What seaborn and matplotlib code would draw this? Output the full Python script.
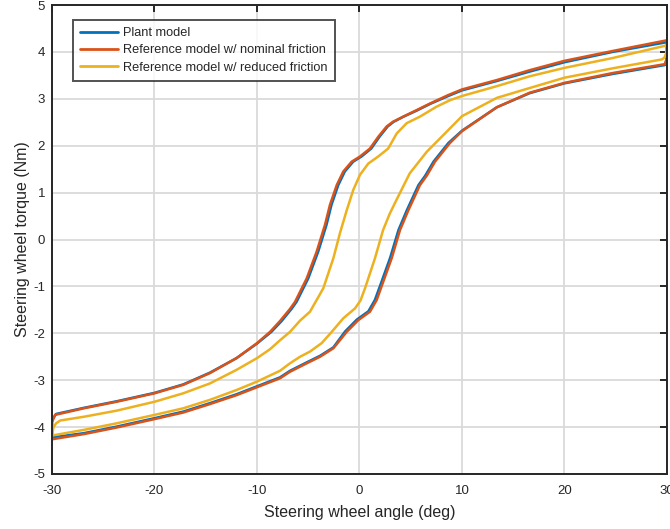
import numpy as np
import pandas as pd
import matplotlib
matplotlib.use("Agg")
import matplotlib.pyplot as plt
import seaborn as sns

# Steering wheel angle (deg) / torque (Nm) hysteresis loops.
# Each loop: "lo" branch = angle increasing, "up" branch = angle decreasing.

# Plant model
plant_lo_angle = [-30, -26.9, -23.7, -20, -17.2, -14.6, -12, -10, -7.76, -6.78, -5.15, -3.85,
                  -2.55, -1.4, -0.27, 0.87, 1.5, 2.02, 2.99, 3.8, 4.61, 5.75, 6.41, 7.22, 8.68,
                  10, 13.4, 16.6, 20, 24.7, 29.8, 29.95]
plant_lo_torque = [-4.22, -4.13, -3.99, -3.81, -3.67, -3.49, -3.30, -3.13, -2.94, -2.80, -2.62,
                   -2.48, -2.30, -1.96, -1.71, -1.53, -1.29, -0.98, -0.39, 0.20, 0.62, 1.16,
                   1.36, 1.66, 2.06, 2.32, 2.82, 3.12, 3.33, 3.53, 3.72, 3.82]
plant_up_angle = [-30, -29.6, -26.9, -23.7, -20, -17.2, -14.6, -12, -10, -8.6, -7.6, -6.63,
                  -6.14, -5.0, -4.03, -3.22, -2.73, -2.07, -1.43, -0.61, 0.2, 1.15, 1.95, 2.75,
                  3.34, 4.3, 5.6, 6.88, 8.66, 10, 13.4, 16.6, 20, 24.7, 29.8, 30]
plant_up_torque = [-3.85, -3.72, -3.59, -3.45, -3.27, -3.09, -2.84, -2.53, -2.22, -1.97, -1.74,
                   -1.48, -1.33, -0.83, -0.26, 0.31, 0.74, 1.16, 1.45, 1.66, 1.77, 1.94, 2.19,
                   2.41, 2.51, 2.62, 2.75, 2.89, 3.06, 3.18, 3.38, 3.58, 3.78, 4.00, 4.20, 4.21]

# Reference model w/ nominal friction
nom_lo_angle = [-30, -26.9, -23.7, -20, -17.2, -14.6, -12, -10, -7.76, -6.78, -5.15, -3.85,
                -2.55, -1.25, -0.12, 1.02, 1.68, 2.17, 3.14, 3.95, 4.76, 5.9, 6.56, 7.37, 8.83,
                10, 13.4, 16.6, 20, 24.7, 29.8, 29.95]
nom_lo_torque = [-4.26, -4.15, -4.01, -3.83, -3.69, -3.51, -3.32, -3.15, -2.96, -2.82, -2.64,
                 -2.50, -2.32, -1.97, -1.72, -1.54, -1.29, -0.99, -0.40, 0.20, 0.62, 1.16,
                 1.36, 1.66, 2.06, 2.31, 2.82, 3.13, 3.34, 3.55, 3.74, 3.85]
nom_up_angle = [-30, -29.7, -26.9, -23.7, -20, -17.2, -14.6, -12, -10, -8.73, -7.76, -6.78,
                -6.29, -5.15, -4.18, -3.37, -2.88, -2.22, -1.58, -0.76, 0.05, 1.02, 1.83, 2.65,
                3.26, 4.27, 5.58, 6.88, 8.66, 10, 13.4, 16.6, 20, 24.7, 29.8, 30]
nom_up_torque = [-3.90, -3.74, -3.60, -3.46, -3.28, -3.10, -2.85, -2.53, -2.21, -1.97, -1.74,
                 -1.48, -1.33, -0.83, -0.26, 0.31, 0.74, 1.16, 1.45, 1.66, 1.77, 1.94, 2.19,
                 2.41, 2.51, 2.62, 2.76, 2.90, 3.08, 3.20, 3.40, 3.61, 3.81, 4.02, 4.24, 4.25]

# Reference model w/ reduced friction
red_lo_angle = [-30, -26.9, -23.7, -20, -17.2, -14.6, -12, -10, -8.73, -7.76, -6.78, -5.8,
                -4.83, -3.69, -2.71, -1.58, -0.44, 0.1, 0.54, 1.51, 2.3, 2.95, 3.6, 4.9, 6.56,
                8.83, 10, 13.4, 16.6, 20, 24.7, 29.5, 29.75, 29.9, 30]
red_lo_torque = [-4.18, -4.06, -3.92, -3.74, -3.60, -3.42, -3.21, -3.03, -2.90, -2.80, -2.64,
                 -2.50, -2.39, -2.21, -1.97, -1.68, -1.47, -1.30, -1.04, -0.40, 0.20, 0.55,
                 0.84, 1.41, 1.87, 2.37, 2.63, 3.02, 3.23, 3.45, 3.65, 3.84, 3.88, 3.96, 4.15]
red_up_angle = [-30, -29.85, -29.6, -29.2, -26.9, -23.7, -20, -17.2, -14.6, -12, -10, -8.73,
                -7.76, -6.78, -5.8, -4.83, -3.53, -2.55, -1.9, -1.25, -0.6, 0.05, 0.86, 1.83,
                2.8, 3.63, 4.6, 5.9, 7.5, 8.83, 10, 13.4, 16.6, 20, 24.7, 29.8, 30]
red_up_torque = [-4.17, -4.00, -3.92, -3.86, -3.78, -3.65, -3.46, -3.28, -3.07, -2.78, -2.53,
                 -2.34, -2.15, -1.97, -1.73, -1.54, -1.04, -0.40, 0.14, 0.62, 1.06, 1.38,
                 1.62, 1.77, 1.94, 2.26, 2.48, 2.62, 2.83, 2.97, 3.06, 3.27, 3.48, 3.66,
                 3.87, 4.13, 4.15]

labels = ["Plant model",
          "Reference model w/ nominal friction",
          "Reference model w/ reduced friction"]
colors = ["#0072BD", "#D95319", "#EDB120"]


def loop_frame(name, lo_x, lo_y, up_x, up_y):
    # increasing-angle branch, then decreasing-angle branch, then close the loop
    x = list(lo_x) + list(up_x)[::-1] + [lo_x[0]]
    y = list(lo_y) + list(up_y)[::-1] + [lo_y[0]]
    return pd.DataFrame({"angle": x, "torque": y, "model": name})


df = pd.concat([
    loop_frame(labels[0], plant_lo_angle, plant_lo_torque, plant_up_angle, plant_up_torque),
    loop_frame(labels[1], nom_lo_angle, nom_lo_torque, nom_up_angle, nom_up_torque),
    loop_frame(labels[2], red_lo_angle, red_lo_torque, red_up_angle, red_up_torque),
], ignore_index=True)

sns.set_style("white")
plt.rcParams["font.family"] = ["Liberation Sans", "DejaVu Sans"]
plt.rcParams["axes.unicode_minus"] = False

fig = plt.figure(figsize=(6.70, 5.29), dpi=100)
ax = fig.add_axes([0.0776, 0.104, 0.9179, 0.8865])

sns.lineplot(data=df, x="angle", y="torque", hue="model", hue_order=labels,
             palette=colors, sort=False, estimator=None, units="model",
             linewidth=1.8, ax=ax)

ax.set_xlim(-30, 30)
ax.set_ylim(-5, 5)
ax.set_xticks(np.arange(-30, 31, 10))
ax.set_yticks(np.arange(-5, 6, 1))
ax.grid(True, color="#dadada", linewidth=1.3)
ax.set_axisbelow(True)

dark = "#262626"
for s in ax.spines.values():
    s.set_visible(True)
    s.set_color(dark)
    s.set_linewidth(1.4)
ax.tick_params(direction="in", length=5, width=1.4, color=dark,
               top=True, right=True, labelsize=9.5, labelcolor=dark)
ax.tick_params(axis="x", pad=8)
ax.tick_params(axis="y", pad=5)

ax.set_xlabel("Steering wheel angle (deg)", fontsize=11.5, color=dark, labelpad=6)
ax.set_ylabel("Steering wheel torque (Nm)", fontsize=11.5, color=dark, labelpad=2)

leg = ax.legend(loc="upper left", bbox_to_anchor=(0.034, 0.968), borderaxespad=0,
                fontsize=9.2, frameon=True, fancybox=False, handlelength=3.0,
                labelspacing=0.42, borderpad=0.55, handletextpad=0.4)
leg.get_frame().set_edgecolor(dark)
leg.get_frame().set_linewidth(1.4)
for line in leg.get_lines():
    line.set_linewidth(2.0)

fig.savefig("out.png", dpi=100)
